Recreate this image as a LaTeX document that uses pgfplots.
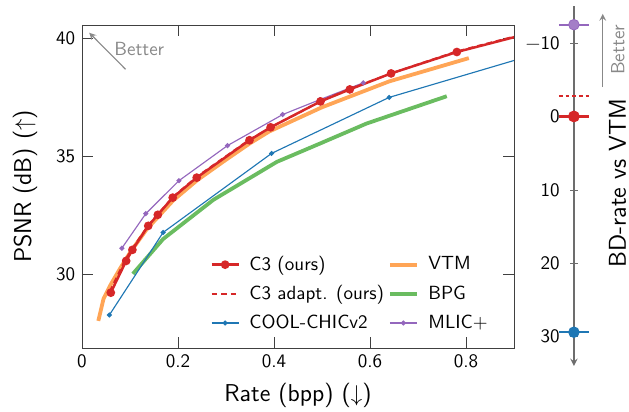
\documentclass[border=0pt]{standalone}
\usepackage{pgfplots}
\pgfplotsset{compat=1.18}
\renewcommand{\familydefault}{\sfdefault}
\definecolor{cRed}{HTML}{D62728}
\definecolor{cBlue}{HTML}{1F77B4}
\definecolor{cOrange}{HTML}{FFA556}
\definecolor{cGreen}{HTML}{6ABC60}
\definecolor{cPurple}{HTML}{9467BD}
\definecolor{axgray}{HTML}{404040}
\definecolor{bgray}{HTML}{888888}

\begin{document}
\begin{tikzpicture}
\useasboundingbox (-43.05pt,-33.1pt) rectangle (287.2pt,182.7pt);
\begin{axis}[
  at={(0pt,0pt)}, anchor=south west,
  width=226.8pt, height=169.6pt, scale only axis,
  xmin=0, xmax=0.9, ymin=26.85, ymax=40.58,
  xtick={0,0.2,0.4,0.6,0.8}, ytick={30,35,40},
  xlabel={Rate (bpp) ($\downarrow$)},
  ylabel={PSNR (dB) ($\uparrow$)},
  label style={font=\fontsize{12.8}{15}\selectfont},
  x label style={at={(axis description cs:0.5,-0.1455)}, anchor=center},
  y label style={at={(axis description cs:-0.132,0.5)}, anchor=center},
  /pgf/number format/assume math mode=true,
  axis line style={axgray}, tick style={axgray}, major tick length=5.7pt,
  legend style={at={(0.962,0.027)}, anchor=south east, draw=none, fill=none,
    font=\fontsize{10}{12}\selectfont, row sep=2.4pt,
    /tikz/every odd column/.append style={column sep=3pt}},
  legend image code/.code={
    \draw[mark repeat=2, mark phase=2] plot coordinates {(0cm,0cm) (0.25cm,0cm) (0.5cm,0cm)};},
  legend columns=2, legend cell align=left,
]
% VTM
\addplot[cOrange, line width=2pt, forget plot] coordinates {
  (0.034,28.0) (0.045,28.95) (0.06,29.55) (0.08,30.25) (0.10,30.9)
  (0.135,31.9) (0.19,33.12) (0.24,33.98) (0.30,34.85) (0.35,35.55)
  (0.39,36.05) (0.50,37.08) (0.64,38.18) (0.806,39.17)};
% BPG
\addplot[cGreen, line width=2pt, forget plot] coordinates {
  (0.106,30.0) (0.169,31.48) (0.274,33.15) (0.406,34.76) (0.496,35.54)
  (0.593,36.39) (0.76,37.55)};
% COOL-CHICv2
\addplot[cBlue, line width=0.6pt, mark=*, mark size=1pt, forget plot] coordinates {
  (0.057,28.25) (0.169,31.76) (0.395,35.12) (0.640,37.50)};
\addplot[cBlue, line width=0.6pt, forget plot] coordinates {
  (0.640,37.50) (0.95,39.37)};
% MLIC+
\addplot[cPurple, line width=0.6pt, mark=*, mark size=1pt, forget plot] coordinates {
  (0.083,31.09) (0.133,32.56) (0.202,33.96) (0.303,35.45) (0.418,36.77)
  (0.495,37.40) (0.586,38.12)};
% C3 adapt.
\addplot[cRed, line width=1pt, dash pattern=on 3pt off 2pt, forget plot] coordinates {
  (0.058,29.25) (0.09,30.6) (0.105,31.08) (0.14,32.12) (0.16,32.58)
  (0.19,33.28) (0.24,34.14) (0.30,35.0) (0.35,35.72) (0.40,36.3)
  (0.50,37.36) (0.56,37.88) (0.65,38.56) (0.78,39.45) (0.95,40.35)};
% C3 (ours)
\addplot[cRed, line width=1.3pt, mark=*, mark size=1.6pt, forget plot] coordinates {
  (0.060,29.20) (0.092,30.55) (0.105,31.02) (0.138,32.04) (0.158,32.51)
  (0.189,33.24) (0.239,34.09) (0.349,35.68) (0.393,36.23) (0.497,37.33)
  (0.558,37.84) (0.644,38.52) (0.781,39.43)};
\addplot[cRed, line width=1.3pt, forget plot] coordinates {
  (0.781,39.43) (0.95,40.32)};

\addlegendimage{cRed, line width=1.3pt, mark=*, mark size=1.6pt}
\addlegendentry{C3 (ours)}
\addlegendimage{cOrange, line width=2pt}
\addlegendentry{VTM}
\addlegendimage{cRed, line width=1pt, dash pattern=on 3pt off 2pt}
\addlegendentry{C3 adapt. (ours)}
\addlegendimage{cGreen, line width=2pt}
\addlegendentry{BPG}
\addlegendimage{cBlue, line width=0.6pt, mark=*, mark size=1pt}
\addlegendentry{COOL-CHICv2}
\addlegendimage{cPurple, line width=0.6pt, mark=*, mark size=1pt}
\addlegendentry{MLIC+}
\end{axis}

\begin{axis}[
  at={(250.4pt,-9.45pt)}, anchor=south west,
  width=15.75pt, height=188.8pt, scale only axis,
  xmin=-1, xmax=1, ymin=-15, ymax=34, y dir=reverse,
  axis x line=none, axis y line=center,
  ytick={-10,0,10,20,30}, yticklabels={−10,0,10,20,30},
  axis line style={bgray!80!black, line width=0.7pt},
  tick style={bgray!80!black}, major tick length=4pt,
  yticklabel style={xshift=-2pt},
  clip=false,
]
\addplot[cOrange, line width=1.2pt] coordinates {(-1,0) (1,0)};
\addplot[cRed, line width=1.2pt] coordinates {(-1,0) (1,0)};
\addplot[cRed, line width=1.2pt, dash pattern=on 2pt off 1.5pt] coordinates {(-1,-2.8) (1,-2.8)};
\addplot[cPurple, line width=1.2pt] coordinates {(-1,-12.5) (1,-12.5)};
\addplot[cBlue, line width=1.2pt] coordinates {(-1,29.4) (1,29.4)};
\addplot[only marks, mark=*, mark size=2.8pt, cPurple, mark options={fill=cPurple!85!white}] coordinates {(0,-12.5)};
\addplot[only marks, mark=*, mark size=2.9pt, cRed] coordinates {(0,0)};
\addplot[only marks, mark=*, mark size=2.8pt, cBlue] coordinates {(0,29.4)};
\end{axis}

\draw[bgray, line width=0.6pt, -stealth] (22.9pt,146.3pt) -- (3.8pt,165.5pt);
\node[bgray, anchor=west, inner sep=0pt] at (16.8pt,157pt) {Better};
\draw[bgray, line width=0.6pt, -stealth] (273.4pt,137pt) -- (273.4pt,175.4pt);
\node[bgray, rotate=90] at (281.4pt,156.5pt) {Better};
\node[rotate=90, font=\fontsize{12.8}{15}\selectfont] at (281.2pt,86.6pt) {BD-rate vs VTM};
\end{tikzpicture}
\end{document}
